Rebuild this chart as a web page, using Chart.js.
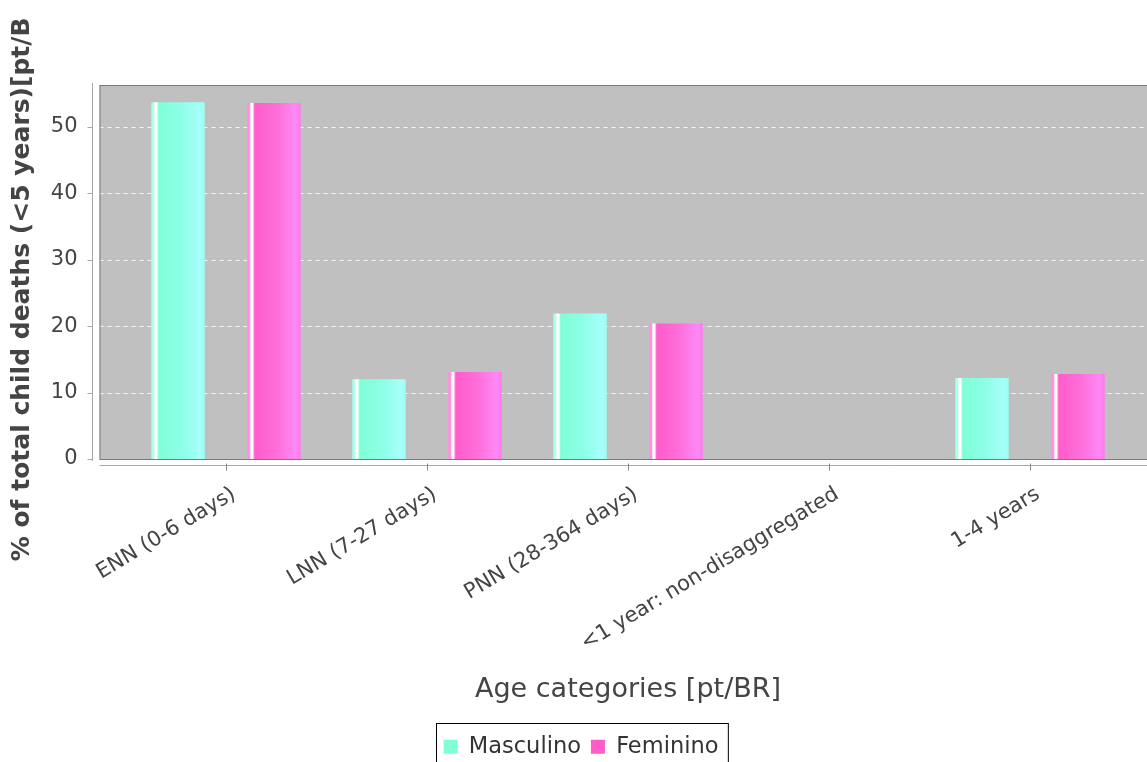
<!DOCTYPE html>
<html>
<head>
<meta charset="utf-8">
<script src="https://cdn.jsdelivr.net/npm/chart.js@4.4.0/dist/chart.umd.min.js"></script>
<style>
  html, body { margin: 0; padding: 0; overflow: hidden; background: #fff; }
</style>
</head>
<body>
<canvas id="childDeaths" width="1162" height="775"></canvas>
<script>
// data
const categories = ['ENN (0-6 days)', 'LNN (7-27 days)', 'PNN (28-364 days)', '<1 year: non-disaggregated', '1-4 years'];
const masculino = [53.7, 12.0, 21.9, null, 12.2];
const feminino = [53.6, 13.1, 20.4, null, 12.8];
const yTicks = [0, 10, 20, 30, 40, 50];
const yMax = 56.3;

const FONT = '"DejaVu Sans", sans-serif';

// java style gradient for each bar (white streak near the left edge)
const barShades = {
    Masculino: ['#a8ffea', '#ffffff', '#7fffd6', '#8dffe6', '#a6fffa', '#9cfff2'],
    Feminino: ['#ff90e0', '#ffffff', '#ff5cca', '#ff6ed9', '#ff88f6', '#ff78ec']
};

const gradientBars = {
    id: 'gradientBars',
    beforeDatasetsDraw(chart) {
        const ctx = chart.ctx;
        chart.data.datasets.forEach((ds, i) => {
            const shades = barShades[ds.label];
            chart.getDatasetMeta(i).data.forEach(el => {
                if (!el.width) return;
                const l = el.x - el.width / 2;
                const g = ctx.createLinearGradient(l, 0, l + el.width, 0);
                g.addColorStop(0, shades[0]);
                g.addColorStop(0.04, shades[0]);
                g.addColorStop(0.07, shades[1]);
                g.addColorStop(0.1, shades[1]);
                g.addColorStop(0.14, shades[2]);
                g.addColorStop(0.55, shades[3]);
                g.addColorStop(0.9, shades[4]);
                g.addColorStop(1, shades[5]);
                el.options = Object.assign({}, el.options, { backgroundColor: g });
            });
        });
    }
};

// grey plot panel, dashed grid, detached axis lines
const plotFrame = {
    id: 'plotFrame',
    beforeDatasetsDraw(chart) {
        const { ctx, chartArea: a, scales } = chart;
        const left = a.left - 26, right = a.right + 28;
        ctx.save();
        ctx.fillStyle = '#c0c0c0';
        ctx.fillRect(left, a.top, right - left, a.bottom - a.top);

        ctx.strokeStyle = 'rgba(255,255,255,0.85)';
        ctx.lineWidth = 1;
        ctx.setLineDash([4, 4]);
        yTicks.forEach(t => {
            if (t === 0) return;
            const py = Math.round(scales.y.getPixelForValue(t)) + 0.5;
            ctx.beginPath();
            ctx.moveTo(left, py);
            ctx.lineTo(right, py);
            ctx.stroke();
        });
        ctx.setLineDash([]);

        ctx.strokeStyle = '#7a7a7a';
        ctx.strokeRect(left + 0.5, a.top + 0.5, right - left, a.bottom - a.top);

        // y axis
        ctx.strokeStyle = '#a8a8a8';
        const ax = Math.round(a.left - 34) + 0.5;
        ctx.beginPath();
        ctx.moveTo(ax, a.top - 2);
        ctx.lineTo(ax, a.bottom + 2);
        yTicks.forEach(t => {
            const py = Math.round(scales.y.getPixelForValue(t)) + 0.5;
            ctx.moveTo(ax - 5, py);
            ctx.lineTo(ax, py);
        });
        ctx.stroke();

        // x axis
        const ay = Math.round(a.bottom + 6) + 0.5;
        ctx.beginPath();
        ctx.moveTo(left, ay);
        ctx.lineTo(right, ay);
        ctx.stroke();
        ctx.strokeStyle = '#888';
        ctx.beginPath();
        categories.forEach((c, i) => {
            const px = Math.round(scales.x.getPixelForTick(i)) + 0.5;
            ctx.moveTo(px, ay - 2);
            ctx.lineTo(px, ay + 5);
        });
        ctx.stroke();
        ctx.restore();
    }
};

// legend centred on the whole canvas and boxed
const legendBox = {
    id: 'legendBox',
    afterUpdate(chart) {
        const lg = chart.legend;
        const d = (chart.width - (lg.left + lg.right)) / 2;
        lg.left += d;
        lg.right += d;
        (lg.legendHitBoxes || []).forEach(b => { b.left += d; });
    },
    afterDraw(chart) {
        const boxes = chart.legend.legendHitBoxes;
        if (!boxes || !boxes.length) return;
        const l = Math.min(...boxes.map(b => b.left)) - 8;
        const r = Math.max(...boxes.map(b => b.left + b.width)) + 9;
        const mid = boxes[0].top + boxes[0].height / 2;
        const ctx = chart.ctx;
        ctx.save();
        ctx.strokeStyle = '#000';
        ctx.lineWidth = 1;
        ctx.strokeRect(Math.round(l) + 0.5, Math.round(mid - 24) + 0.5, r - l, 60);
        ctx.restore();
    }
};

new Chart(document.getElementById('childDeaths').getContext('2d'), {
    type: 'bar',
    data: {
        labels: categories,
        datasets: [{
            label: 'Masculino',
            data: masculino,
            backgroundColor: '#7fffd6',
            borderWidth: 0
        }, {
            label: 'Feminino',
            data: feminino,
            backgroundColor: '#ff5cca',
            borderWidth: 0
        }]
    },
    options: {
        responsive: false,
        animation: false,
        categoryPercentage: 0.955,
        barPercentage: 0.557,
        layout: { padding: { top: 85, right: 31.5, bottom: 7, left: 0 } },
        plugins: {
            tooltip: { enabled: false },
            legend: {
                position: 'bottom',
                labels: {
                    boxWidth: 14,
                    boxHeight: 14,
                    padding: 10,
                    color: '#333',
                    font: { family: FONT, size: 22.5 }
                }
            }
        },
        scales: {
            x: {
                grid: { display: false, drawTicks: false },
                border: { display: false },
                ticks: {
                    autoSkip: false,
                    maxRotation: 31,
                    minRotation: 31,
                    padding: 23,
                    labelOffset: 8,
                    color: '#444',
                    font: { family: FONT, size: 21 }
                },
                title: {
                    display: true,
                    text: 'Age categories [pt/BR]',
                    color: '#444',
                    font: { family: FONT, size: 27 },
                    padding: { top: 0, bottom: 19.5 }
                },
                afterFit(s) { s.height = 266.5; }
            },
            y: {
                min: 0,
                max: yMax,
                grid: { display: false, drawTicks: false },
                border: { display: false },
                ticks: {
                    stepSize: 10,
                    includeBounds: false,
                    padding: 48,
                    color: '#444',
                    font: { family: FONT, size: 21 }
                },
                title: {
                    display: true,
                    text: '% of total child deaths (<5 years)[pt/B    ',
                    color: '#444',
                    font: { family: FONT, size: 25, weight: 'bold' },
                    padding: { top: 7, bottom: 0 }
                },
                afterFit(s) { s.width = 125.5; }
            }
        }
    },
    plugins: [plotFrame, gradientBars, legendBox]
});
</script>
</body>
</html>
